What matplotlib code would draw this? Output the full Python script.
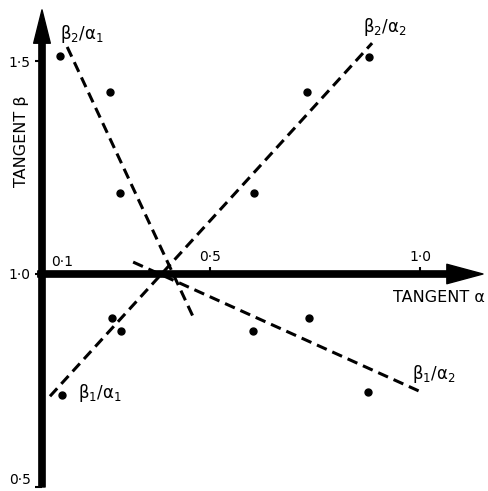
import matplotlib
matplotlib.use("Agg")
import matplotlib.pyplot as plt

plt.rcParams["mathtext.default"] = "regular"

# data points (tangent alpha, tangent beta)
upper_x = [0.143, 0.262, 0.286, 0.605, 0.731, 0.879]
upper_y = [1.512, 1.428, 1.190, 1.190, 1.428, 1.510]
lower_x = [0.148, 0.267, 0.288, 0.602, 0.736, 0.876]
lower_y = [0.717, 0.897, 0.867, 0.867, 0.897, 0.724]

# fitted dashed lines (endpoints)
line_b2a1_x = [0.160, 0.462]
line_b2a1_y = [1.533, 0.895]
line_diag_x = [0.119, 0.886]
line_diag_y = [0.713, 1.542]
line_b1a2_x = [0.317, 1.005]
line_b1a2_y = [1.028, 0.722]

# labels
line_labels = [r"$\beta_2/\alpha_1$", r"$\beta_2/\alpha_2$", r"$\beta_1/\alpha_1$", r"$\beta_1/\alpha_2$"]
label_x = [0.143, 0.864, 0.186, 0.981]
label_y = [1.563, 1.579, 0.720, 0.766]

xticks = [0.5, 1.0]
xticklabels = ["0·5", "1·0"]
yticks = [0.5, 1.0, 1.5]
yticklabels = ["0·5", "1·0", "1·5"]

fig = plt.figure(figsize=(4.88, 4.91), dpi=100)
ax = fig.add_axes([0, 0, 1, 1])
ax.set_xlim(0.0, 1.162)
ax.set_ylim(0.4906, 1.6432)

for s in ["bottom", "right", "left", "top"]:
    ax.spines[s].set_visible(False)
ax.spines["left"].set_position(("data", 0.1))
ax.spines["top"].set_position(("data", 1.0))
ax.xaxis.tick_top()
ax.set_xticks(xticks)
ax.set_xticklabels(xticklabels, fontsize=10)
ax.set_yticks(yticks)
ax.set_yticklabels(yticklabels, fontsize=10)
ax.tick_params(axis="x", direction="out", length=5, width=1.5, pad=2)
ax.tick_params(axis="y", direction="out", length=5, width=1.5, pad=3)
ax.get_yticklabels()[0].set_va("bottom")

# axis arrows
ax.annotate("", xy=(0.1, 1.62), xytext=(0.1, 0.5),
            arrowprops=dict(facecolor="black", edgecolor="black", width=4.5,
                            headwidth=12, headlength=24, shrink=0))
ax.annotate("", xy=(1.15, 1.0), xytext=(0.09, 1.0),
            arrowprops=dict(facecolor="black", edgecolor="black", width=4.5,
                            headwidth=14, headlength=26, shrink=0))

ax.text(0.147, 1.012, "0·1", fontsize=10, ha="center", va="bottom")

ax.text(1.155, 0.946, "TANGENT α", fontsize=11.5, ha="right", va="center")
ax.text(0.052, 1.311, "TANGENT β", fontsize=11.5, ha="center", va="center", rotation=90)

dash = (3.5, 2.0)
for lx, ly in [(line_b2a1_x, line_b2a1_y), (line_diag_x, line_diag_y), (line_b1a2_x, line_b1a2_y)]:
    ax.plot(lx, ly, color="black", lw=2.2, linestyle=(0, dash), solid_capstyle="butt")

ax.plot(upper_x, upper_y, "o", color="black", markersize=5)
ax.plot(lower_x, lower_y, "o", color="black", markersize=5)

for t, x, y in zip(line_labels, label_x, label_y):
    ax.text(x, y, t, fontsize=12, ha="left", va="center")

fig.savefig("out.png", dpi=100)
